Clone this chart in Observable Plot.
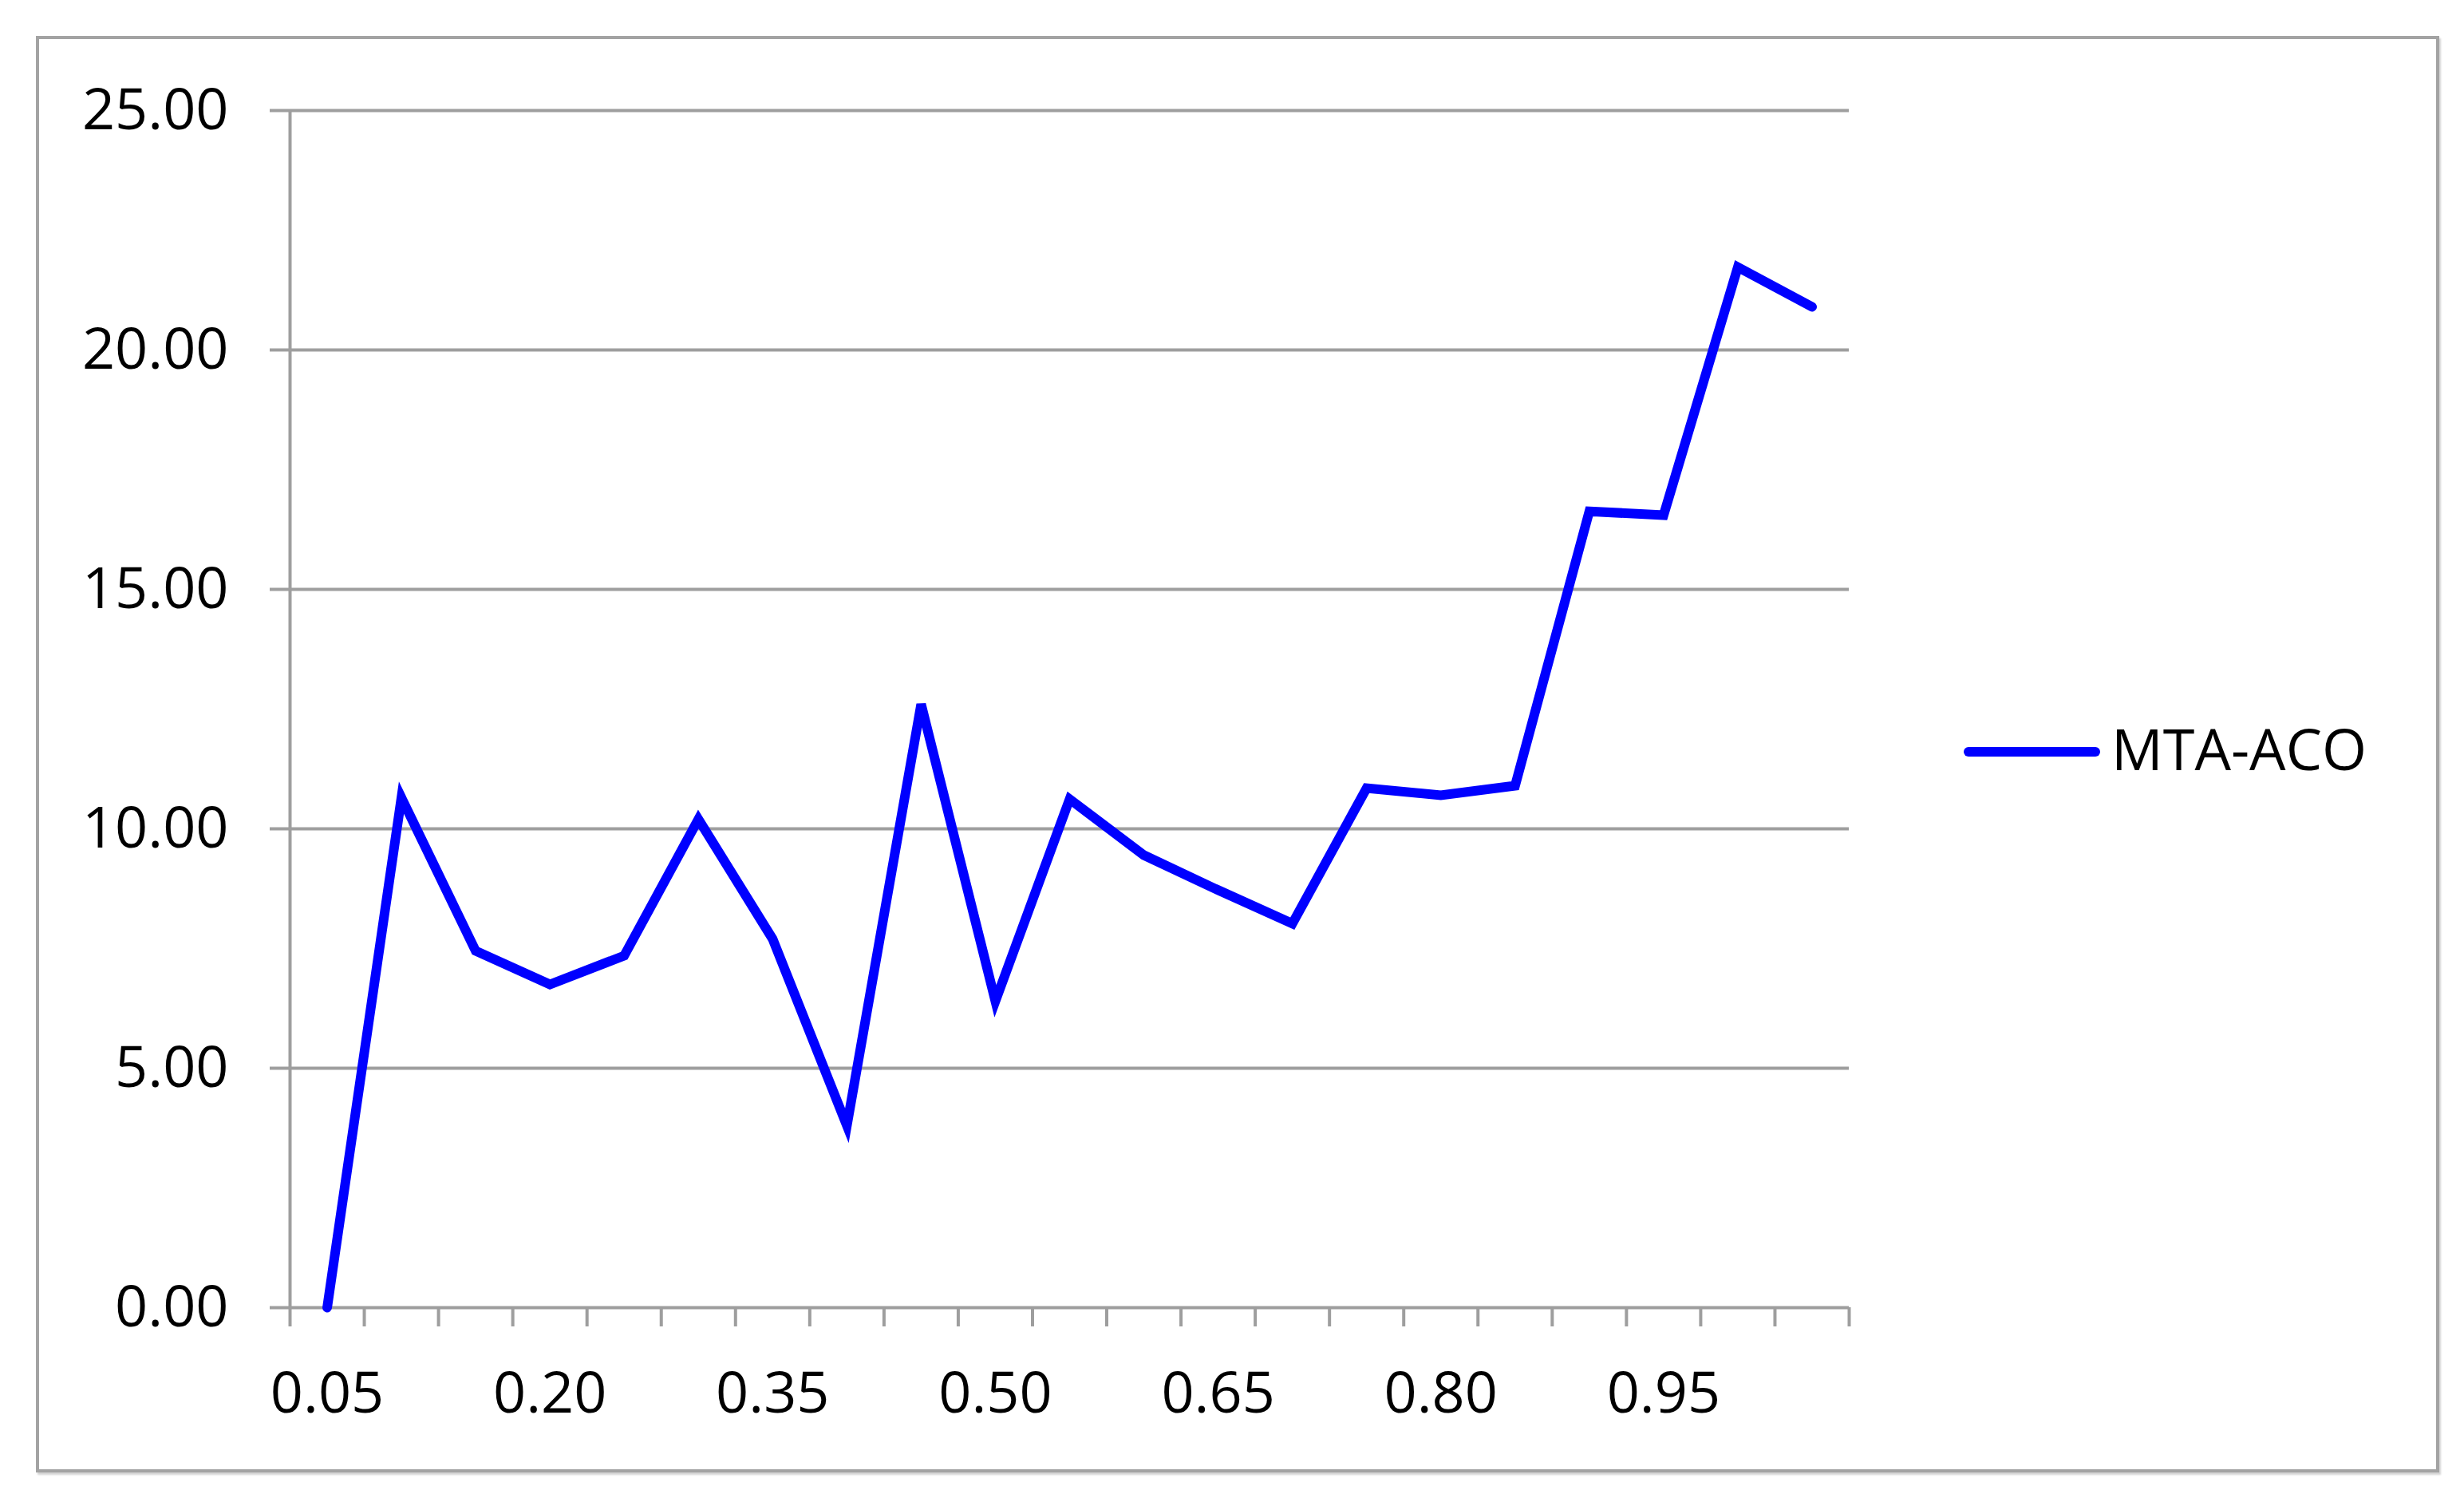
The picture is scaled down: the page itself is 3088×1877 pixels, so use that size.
<!DOCTYPE html>
<html>
<head>
<meta charset="utf-8">
<script src="https://cdn.jsdelivr.net/npm/d3@7"></script>
<script src="https://cdn.jsdelivr.net/npm/@observablehq/plot@0.6"></script>
<style>
  html, body { margin: 0; padding: 0; background: #ffffff; }
  body { width: 3088px; height: 1877px; position: relative; overflow: hidden; font-family: "Open Sans", sans-serif; }
  #frame {
    position: absolute; left: 45px; top: 45px; width: 3012px; height: 1800px;
    box-sizing: border-box; border: 4px solid #a3a3a3;
    box-shadow: 2px 3px 2px #d4d4d4; pointer-events: none;
  }
  #chart { position: absolute; left: 0; top: 0; height: 1877px; display: flex; align-items: center; }
  #legend { display: flex; align-items: center; margin-left: 61px; margin-top: 6px; }
  #legend .swatch { width: 171px; height: 12px; background: #0000ff; border-radius: 6px; }
  #legend .label { margin-left: 14px; font-size: 72px; font-weight: 500; color: #000; line-height: 1; margin-top: -10px; }
</style>
</head>
<body>
<div id="chart"></div>
<div id="frame"></div>
<script>
// Categories (x) and series values (y)
const alpha = ["0.05","0.10","0.15","0.20","0.25","0.30","0.35","0.40","0.45","0.50",
               "0.55","0.60","0.65","0.70","0.75","0.80","0.85","0.90","0.95","1.00","1.05"];
const mtaAco = [0.00, 10.65, 7.45, 6.75, 7.35, 10.2, 7.7, 3.8, 12.6, 6.4,
                10.62, 9.45, 8.72, 8.02, 10.85, 10.7, 10.9, 16.63, 16.55, 21.73, 20.9];
const seriesName = "MTA-ACO";
const yTicks = [0, 5, 10, 15, 20, 25];
const labelEvery = 3;

const data = alpha.map((a, i) => ({i, alpha: a, value: mtaAco[i]}));
const boundaries = d3.range(alpha.length + 1).map(i => i - 0.5);
const labelIdx = d3.range(0, alpha.length, labelEvery);

const grey = "#9e9e9e";

const plot = Plot.plot({
  width: 2400,
  height: 1877,
  marginLeft: 363,
  marginRight: 83,
  marginTop: 138,
  marginBottom: 239,
  style: {fontFamily: "'Open Sans', sans-serif", fontSize: "72px", fontWeight: 500, color: "#000", background: "transparent"},
  x: {type: "linear", domain: [-0.5, alpha.length - 0.5]},
  y: {type: "linear", domain: [0, 25]},
  marks: [
    Plot.gridY(yTicks, {stroke: grey, strokeOpacity: 1, strokeWidth: 4}),
    Plot.axisY({ticks: yTicks, tickSize: 25, tickPadding: 52, tickFormat: d => d.toFixed(2),
                stroke: grey, strokeWidth: 4, fill: "#000", label: null}),
    Plot.axisX({ticks: boundaries, tickSize: 24, tickFormat: () => "", stroke: grey, strokeWidth: 4, label: null}),
    Plot.axisX({ticks: labelIdx, tickSize: 0, tickPadding: 80, tickFormat: i => alpha[i], fill: "#000", label: null}),
    Plot.ruleX([-0.5], {stroke: grey, strokeWidth: 4}),
    Plot.line(data, {x: "i", y: "value", stroke: "#0000ff", strokeWidth: 12,
                     strokeLinejoin: "miter", strokeMiterlimit: 4, strokeLinecap: "round"})
  ]
});

const chart = document.getElementById("chart");
chart.appendChild(plot);
const legend = document.createElement("div");
legend.id = "legend";
legend.innerHTML = `<div class="swatch"></div><div class="label">${seriesName}</div>`;
chart.appendChild(legend);
</script>
</body>
</html>
